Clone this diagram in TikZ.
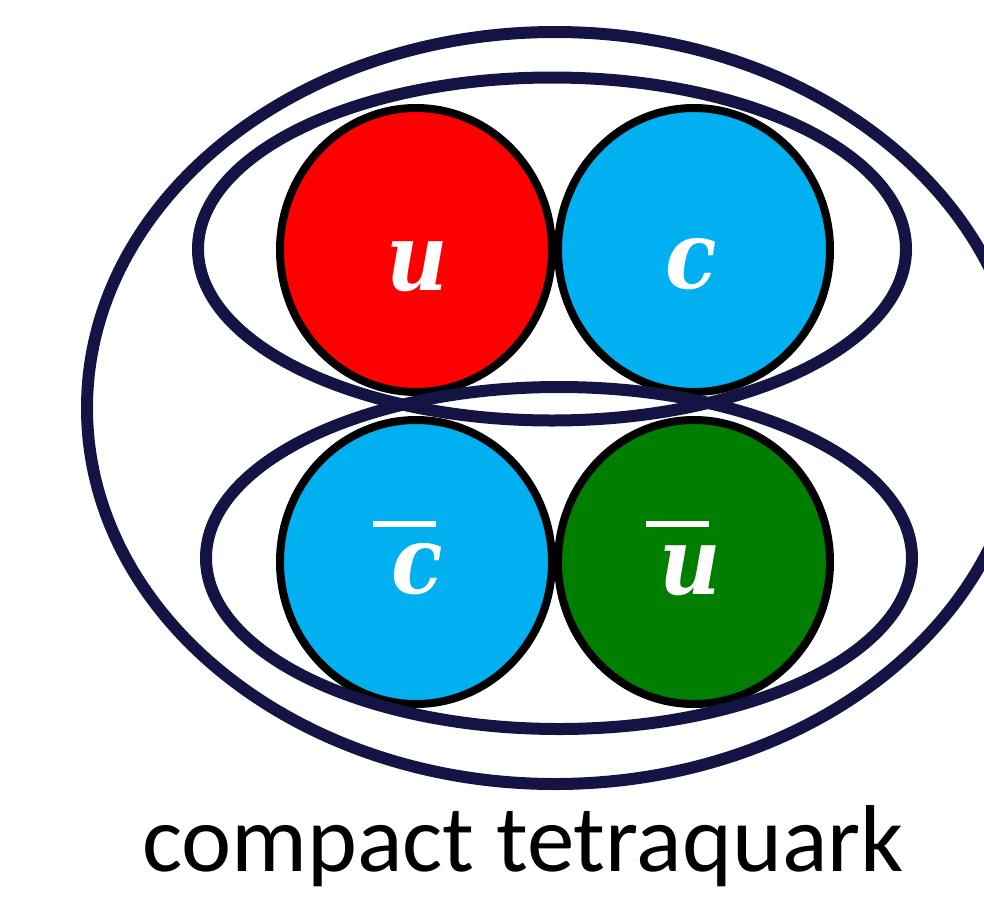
\documentclass[tikz,border=0pt]{standalone}
\usepackage{fontspec}
\setmainfont{Carlito}
\newfontfamily\qfont[FakeStretch=0.9]{DejaVu Serif}
\usetikzlibrary{shapes.geometric}
\definecolor{navy}{RGB}{20,20,68}
\definecolor{qred}{RGB}{255,0,0}
\definecolor{qblue}{RGB}{0,176,240}
\definecolor{qgreen}{RGB}{0,126,0}
\begin{document}
\begin{tikzpicture}[x=1pt,y=-1pt,
 quark/.style={ellipse, draw=black, line width=8pt, minimum width=272pt, minimum height=284pt, inner sep=0pt},
 qlabel/.style={text=white, font=\qfont\bfseries\itshape\fontsize{94}{94}\selectfont, anchor=base, inner sep=0pt},
 bag/.style={draw=navy, line width=12pt},
 qbar/.style={draw=white, line width=6pt}]
\useasboundingbox (0,0) rectangle (984,897);
\clip (0,0) rectangle (984,897);
\node[quark, fill=qred] (u) at (416,250) {};
\node[quark, fill=qblue] (c) at (694,250) {};
\node[quark, fill=qblue] (cb) at (416,562) {};
\node[quark, fill=qgreen] (ub) at (694,562) {};
\node[qlabel] (ul) at (417,290) {u};
\node[qlabel] (cl) at (691,288) {c};
\node[qlabel] (cbl) at (417,593) {c};
\node[qlabel] (ubl) at (690,594) {u};
\draw[qbar] (373,524) -- (436,524);
\draw[qbar] (646,524) -- (709,524);
\draw[bag] (552,249) ellipse [x radius=354, y radius=171.5];
\draw[bag] (559,558) ellipse [x radius=353, y radius=171];
\draw[bag] (555,408) ellipse [x radius=468, y radius=376];
\node[font=\fontsize{95}{95}\selectfont, anchor=base, inner sep=0pt] (title) at (523,871) {compact tetraquark};
\end{tikzpicture}
\end{document}
